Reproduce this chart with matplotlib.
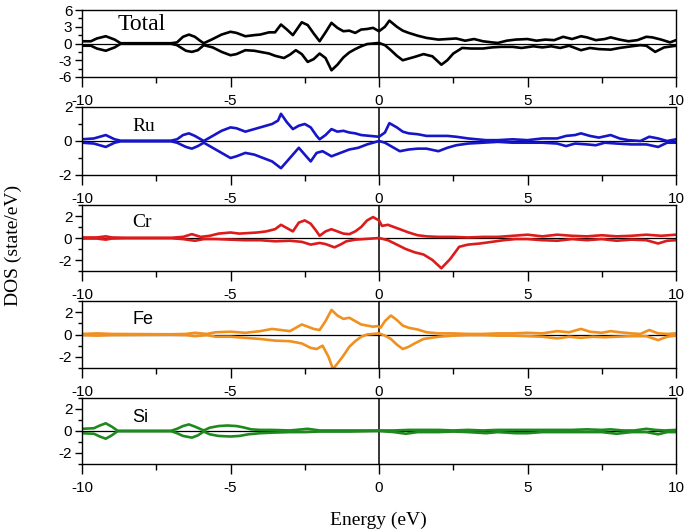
import numpy as np
import matplotlib
matplotlib.use('Agg')
import matplotlib.pyplot as plt
from matplotlib.ticker import MultipleLocator

plt.rcParams['axes.unicode_minus'] = False

# values (energy in eV, DOS in state/eV)
tot_up_e = [-10, -9.7, -9.5, -9.2, -8.9, -8.7, -7.0, -6.8, -6.6, -6.4, -6.2, -6.0, -5.9, -5.6, -5.3, -5.0, -4.8, -4.5,
            -4.2, -4.0, -3.7, -3.5, -3.3, -3.1, -2.9, -2.6, -2.4, -2.2, -2.0, -1.8, -1.6, -1.4, -1.2, -1.0, -0.8,
            -0.6, -0.4, -0.2, 0.0, 0.2, 0.35, 0.6, 0.8, 1.0, 1.3, 1.6, 2.0, 2.3, 2.6, 2.9, 3.2, 3.5, 3.8, 4.0,
            4.3, 4.6, 5.0, 5.3, 5.6, 5.9, 6.2, 6.5, 6.8, 7.0, 7.3, 7.6, 7.8, 8.1, 8.4, 8.7, 9.0, 9.2, 9.5, 9.8, 10]
tot_up = [0.4, 0.4, 0.9, 1.3, 0.7, 0.05, 0.05, 0.2, 1.2, 1.6, 1.2, 0.4, 0.05, 0.8, 1.6, 2.1, 1.9, 1.3,
          1.5, 1.6, 2.0, 2.0, 3.4, 2.5, 1.5, 3.8, 3.3, 1.8, 0.4, 2.0, 3.7, 2.8, 2.2, 2.3, 1.9,
          2.5, 2.6, 2.8, 2.2, 3.0, 4.1, 3.0, 2.3, 1.9, 1.4, 1.0, 0.7, 0.8, 0.9, 0.5, 0.8, 0.4, 0.2, 0.1,
          0.5, 0.7, 0.8, 0.5, 0.7, 0.6, 1.2, 0.8, 1.3, 1.1, 0.6, 0.8, 1.1, 0.7, 0.4, 0.6, 1.2, 1.1, 0.7, 0.2, 0.6]
tot_dn_e = [-10, -9.7, -9.5, -9.2, -8.9, -8.7, -7.0, -6.8, -6.5, -6.3, -6.1, -5.9, -5.6, -5.3, -5.0, -4.8, -4.5,
            -4.2, -4.0, -3.7, -3.5, -3.2, -3.0, -2.8, -2.6, -2.4, -2.2, -2.0, -1.8, -1.6, -1.4, -1.2, -1.0,
            -0.8, -0.6, -0.4, -0.2, 0.0, 0.2, 0.4, 0.6, 0.8, 1.0, 1.2, 1.5, 1.8, 2.1, 2.3, 2.5, 2.8, 3.1,
            3.5, 3.8, 4.1, 4.5, 4.8, 5.2, 5.5, 5.8, 6.1, 6.4, 6.8, 7.1, 7.4, 7.8, 8.1, 8.5, 8.8, 9.0, 9.3, 9.6, 10]
tot_dn = [-0.4, -0.4, -0.9, -1.3, -0.7, -0.05, -0.05, -0.3, -1.3, -1.5, -1.2, -0.3, -0.7, -1.5, -2.1, -1.9, -1.2,
          -1.3, -1.5, -1.8, -2.2, -2.6, -2.0, -1.2, -1.9, -3.3, -2.8, -1.8, -2.6, -4.8, -3.8, -2.5, -1.6,
          -1.0, -0.5, -0.1, 0.0, 0.1, -0.3, -1.2, -2.2, -3.0, -2.7, -2.4, -1.9, -2.3, -3.8, -3.0, -1.8, -0.8, -0.9,
          -0.9, -0.7, -0.6, -0.6, -0.8, -0.5, -0.7, -0.5, -0.8, -0.4, -1.2, -0.8, -1.0, -1.1, -0.8, -0.5, -0.3,
          -0.4, -1.5, -0.7, -0.4]

ru_up_e = [-10, -9.6, -9.2, -8.9, -8.7, -7.0, -6.8, -6.6, -6.4, -6.2, -5.9, -5.6, -5.3, -5.0, -4.8, -4.5, -4.2,
           -4.0, -3.8, -3.6, -3.4, -3.3, -3.1, -2.9, -2.7, -2.5, -2.3, -2.1, -2.0, -1.8, -1.6, -1.4, -1.2, -1.0,
           -0.8, -0.6, -0.3, 0.0, 0.2, 0.35, 0.6, 0.8, 1.0, 1.3, 1.6, 2.0, 2.3, 2.6, 3.0, 3.3, 3.6, 4.0, 4.5,
           5.0, 5.5, 6.0, 6.3, 6.6, 6.8, 7.1, 7.4, 7.8, 8.1, 8.4, 8.8, 9.1, 9.4, 9.7, 10]
ru_up = [0.1, 0.15, 0.35, 0.1, 0.02, 0.02, 0.1, 0.35, 0.45, 0.3, 0.0, 0.3, 0.6, 0.8, 0.75, 0.55, 0.7,
         0.8, 0.9, 1.0, 1.2, 1.6, 1.1, 0.7, 0.9, 1.0, 0.8, 0.3, 0.1, 0.35, 0.7, 0.55, 0.6, 0.5,
         0.45, 0.35, 0.3, 0.25, 0.5, 1.05, 0.8, 0.55, 0.45, 0.4, 0.3, 0.3, 0.3, 0.25, 0.15, 0.1, 0.05, 0.05, 0.1,
         0.05, 0.15, 0.15, 0.3, 0.35, 0.45, 0.3, 0.2, 0.35, 0.15, 0.05, 0.0, 0.25, 0.15, 0.0, 0.1]
ru_dn_e = [-10, -9.6, -9.2, -8.9, -8.7, -7.0, -6.8, -6.5, -6.3, -6.1, -5.9, -5.6, -5.3, -5.0, -4.8, -4.5, -4.2,
           -3.9, -3.6, -3.3, -3.1, -2.9, -2.7, -2.5, -2.3, -2.1, -1.9, -1.6, -1.3, -1.0, -0.7, -0.4, 0.0, 0.2,
           0.4, 0.7, 1.0, 1.3, 1.6, 2.0, 2.3, 2.6, 3.0, 3.5, 4.0, 4.5, 5.0, 5.5, 6.0, 6.3, 6.6, 7.0, 7.3, 7.6,
           8.0, 8.5, 9.0, 9.4, 9.7, 10]
ru_dn = [-0.1, -0.15, -0.35, -0.1, -0.02, -0.02, -0.1, -0.35, -0.45, -0.3, -0.1, -0.4, -0.7, -1.0, -0.9, -0.7, -0.8,
         -1.0, -1.2, -1.6, -1.2, -0.8, -0.4, -0.8, -1.2, -0.7, -0.6, -0.9, -0.7, -0.5, -0.4, -0.2, 0.0, -0.1,
         -0.3, -0.6, -0.5, -0.45, -0.45, -0.6, -0.4, -0.25, -0.15, -0.1, -0.05, -0.1, -0.1, -0.1, -0.15, -0.3, -0.15,
         -0.2, -0.25, -0.1, -0.15, -0.2, -0.2, -0.35, -0.1, -0.1]

cr_up_e = [-10, -9.5, -9.2, -9.0, -8.5, -7.0, -6.6, -6.3, -6.0, -5.7, -5.4, -5.0, -4.7, -4.4, -4.1, -3.8, -3.5,
           -3.3, -3.1, -2.9, -2.7, -2.5, -2.3, -2.1, -2.0, -1.8, -1.6, -1.4, -1.2, -1.0, -0.8, -0.6, -0.4, -0.2,
           0.0, 0.1, 0.3, 0.5, 0.7, 1.0, 1.3, 1.6, 2.0, 2.5, 3.0, 3.5, 4.0, 4.5, 5.0, 5.5, 6.0, 6.5, 7.0, 7.5,
           8.0, 8.5, 9.0, 9.5, 10]
cr_up = [0.05, 0.05, 0.15, 0.05, 0.02, 0.02, 0.1, 0.35, 0.1, 0.2, 0.4, 0.5, 0.4, 0.45, 0.5, 0.6, 0.8,
         1.2, 0.9, 0.6, 1.4, 1.6, 1.3, 0.6, 0.2, 0.6, 0.8, 0.6, 0.4, 0.35, 0.6, 1.0, 1.6, 1.9,
         1.6, 1.1, 1.2, 1.0, 0.8, 0.5, 0.25, 0.15, 0.1, 0.1, 0.05, 0.1, 0.1, 0.2, 0.3, 0.15, 0.3, 0.2, 0.15, 0.25,
         0.15, 0.2, 0.3, 0.2, 0.3]
cr_dn_e = [-10, -9.5, -9.2, -9.0, -8.5, -7.0, -6.6, -6.2, -5.9, -5.5, -5.0, -4.5, -4.0, -3.5, -3.0, -2.6, -2.3,
           -2.0, -1.8, -1.5, -1.3, -1.1, -0.8, -0.5, 0.0, 0.3, 0.6, 0.9, 1.2, 1.5, 1.8, 2.1, 2.4, 2.7, 3.0,
           3.4, 3.8, 4.2, 4.6, 5.0, 5.5, 6.0, 6.5, 7.0, 7.5, 8.0, 8.5, 9.0, 9.4, 9.7, 10]
cr_dn = [-0.05, -0.05, -0.15, -0.05, -0.02, -0.02, -0.1, -0.25, -0.1, -0.1, -0.15, -0.2, -0.2, -0.3, -0.25, -0.35, -0.6,
         -0.45, -0.55, -0.85, -0.6, -0.3, -0.15, -0.1, 0.0, -0.2, -0.6, -1.0, -1.3, -1.5, -2.0, -2.75, -1.9, -0.8, -0.6,
         -0.5, -0.35, -0.2, -0.1, -0.1, -0.2, -0.25, -0.1, -0.2, -0.1, -0.25, -0.15, -0.2, -0.5, -0.25, -0.2]

fe_up_e = [-10, -9.5, -9.0, -7.0, -6.5, -6.2, -5.8, -5.5, -5.0, -4.5, -4.0, -3.6, -3.3, -3.0, -2.8, -2.6, -2.4,
           -2.2, -2.0, -1.8, -1.6, -1.4, -1.2, -1.0, -0.8, -0.6, -0.4, -0.2, -0.05, 0.05, 0.2, 0.4, 0.6, 0.8,
           1.0, 1.3, 1.6, 2.0, 2.5, 3.0, 3.5, 4.0, 4.5, 5.0, 5.5, 6.0, 6.4, 6.8, 7.1, 7.5, 7.8, 8.1, 8.5, 8.8,
           9.1, 9.4, 9.7, 10]
fe_up = [0.05, 0.1, 0.05, 0.02, 0.05, 0.15, 0.05, 0.2, 0.25, 0.15, 0.3, 0.5, 0.4, 0.3, 0.6, 0.9, 0.7,
         0.5, 0.4, 1.2, 2.2, 1.7, 1.4, 1.5, 1.2, 0.9, 0.8, 0.7, 0.75, 0.6, 1.2, 1.7, 1.3, 0.8,
         0.6, 0.45, 0.2, 0.1, 0.1, 0.05, 0.05, 0.1, 0.1, 0.15, 0.1, 0.3, 0.2, 0.5, 0.25, 0.15, 0.3, 0.2, 0.1, 0.05,
         0.4, 0.1, 0.05, 0.1]
fe_dn_e = [-10, -9.5, -9.0, -7.0, -6.5, -6.2, -5.8, -5.5, -5.0, -4.5, -4.0, -3.5, -3.0, -2.6, -2.3, -2.1, -1.9,
           -1.7, -1.55, -1.4, -1.2, -1.0, -0.8, -0.6, -0.4, -0.2, 0.0, 0.2, 0.4, 0.6, 0.8, 1.0, 1.2, 1.5, 2.0,
           2.5, 3.0, 3.5, 4.0, 4.5, 5.0, 5.5, 6.0, 6.4, 6.8, 7.2, 7.6, 8.0, 8.5, 9.0, 9.4, 9.7, 10]
fe_dn = [-0.05, -0.1, -0.05, -0.02, -0.05, -0.15, -0.05, -0.2, -0.2, -0.3, -0.4, -0.55, -0.6, -0.8, -1.2, -1.3, -1.0,
         -2.0, -3.1, -2.6, -1.9, -1.1, -0.6, -0.2, 0.0, 0.05, 0.1, -0.1, -0.4, -0.9, -1.3, -1.1, -0.8, -0.4, -0.2,
         -0.1, -0.05, -0.05, -0.1, -0.1, -0.15, -0.2, -0.35, -0.2, -0.3, -0.2, -0.25, -0.2, -0.15, -0.15, -0.5, -0.2, -0.1]

si_up_e = [-10, -9.6, -9.4, -9.2, -9.0, -8.8, -7.0, -6.8, -6.6, -6.4, -6.2, -5.9, -5.7, -5.4, -5.1, -4.8, -4.6,
           -4.3, -4.0, -3.6, -3.0, -2.6, -2.4, -2.0, -1.0, 0.0, 0.5, 1.0, 1.5, 2.0, 2.5, 3.0, 3.5, 4.0, 4.5,
           5.0, 5.5, 6.0, 6.5, 7.0, 7.5, 7.8, 8.2, 8.6, 9.0, 9.3, 9.6, 10]
si_up = [0.2, 0.25, 0.5, 0.7, 0.4, 0.02, 0.02, 0.2, 0.45, 0.6, 0.4, 0.05, 0.3, 0.45, 0.5, 0.45, 0.35,
         0.15, 0.1, 0.1, 0.05, 0.15, 0.2, 0.05, 0.05, 0.05, 0.05, 0.1, 0.1, 0.1, 0.05, 0.1, 0.05, 0.1, 0.1,
         0.1, 0.1, 0.1, 0.1, 0.15, 0.1, 0.15, 0.05, 0.05, 0.2, 0.1, 0.05, 0.1]
si_dn_e = [-10, -9.6, -9.4, -9.2, -9.0, -8.8, -7.0, -6.8, -6.6, -6.3, -6.1, -5.9, -5.7, -5.4, -5.0, -4.7, -4.4,
           -4.0, -3.6, -3.0, -2.5, -2.0, -1.0, 0.0, 0.5, 0.9, 1.3, 2.0, 2.5, 3.0, 3.6, 4.0, 4.6, 5.0, 5.5,
           6.0, 6.5, 7.0, 7.5, 8.0, 8.5, 9.0, 9.4, 9.7, 10]
si_dn = [-0.2, -0.25, -0.5, -0.7, -0.4, -0.02, -0.02, -0.2, -0.45, -0.6, -0.4, -0.05, -0.3, -0.45, -0.5, -0.45, -0.3,
         -0.2, -0.15, -0.1, -0.1, -0.05, -0.05, 0.0, -0.1, -0.25, -0.1, -0.1, -0.05, -0.1, -0.2, -0.1, -0.2, -0.2,
         -0.1, -0.1, -0.1, -0.1, -0.1, -0.25, -0.1, -0.1, -0.3, -0.1, -0.1]

names = ['Total', 'Ru', 'Cr', 'Fe', 'Si']
colors = ['black', '#1616c8', '#dc1c1c', '#f0901e', '#1e8a1e']
ups = [(tot_up_e, tot_up), (ru_up_e, ru_up), (cr_up_e, cr_up), (fe_up_e, fe_up), (si_up_e, si_up)]
dns = [(tot_dn_e, tot_dn), (ru_dn_e, ru_dn), (cr_dn_e, cr_dn), (fe_dn_e, fe_dn), (si_dn_e, si_dn)]

# panel layout in pixels (top, bottom) of the 685x532 picture
W, H = 685, 532
rows = [(10, 77), (107, 175), (205, 271), (301, 368), (398, 464)]
label_y = [0.79, 0.72, 0.74, 0.73, 0.71]
left, right = 82, 676

fig = plt.figure(figsize=(W / 100, H / 100), dpi=100)

for i, name in enumerate(names):
    top, bot = rows[i]
    ax = fig.add_axes([left / W, 1 - bot / H, (right - left) / W, (bot - top) / H])
    ax.patch.set_visible(False)
    ax.axhline(0, color='black', lw=0.9, zorder=1)
    ax.axvline(0, color='black', lw=1.1, zorder=1)
    ax.plot(ups[i][0], ups[i][1], color=colors[i], lw=1.9, zorder=2)
    ax.plot(dns[i][0], dns[i][1], color=colors[i], lw=1.9, zorder=2)
    ax.set_xlim(-10, 10)
    if name == 'Total':
        ax.set_ylim(-6, 6)
        ax.yaxis.set_major_locator(MultipleLocator(3))
        ax.yaxis.set_minor_locator(MultipleLocator(1.5))
    elif name == 'Ru':
        ax.set_ylim(-2, 2)
        ax.set_yticks([-2, 0, 2])
        ax.yaxis.set_minor_locator(MultipleLocator(1))
    else:
        ax.set_ylim(-3, 3)
        ax.set_yticks([-2, 0, 2])
        ax.yaxis.set_minor_locator(MultipleLocator(1))
    ax.xaxis.set_major_locator(MultipleLocator(5))
    ax.xaxis.set_minor_locator(MultipleLocator(2.5))
    ax.tick_params(which='major', direction='out', length=7, width=1, pad=5, labelsize=11)
    ax.tick_params(which='minor', direction='out', length=4, width=1)
    ax.tick_params(axis='y', which='major', length=5, pad=2)
    ax.tick_params(axis='y', which='minor', length=3)
    for lab in ax.get_xticklabels() + ax.get_yticklabels():
        lab.set_family('Liberation Sans')
    for s in ax.spines.values():
        s.set_linewidth(1)
    if name in ('Total', 'Ru', 'Cr'):
        fam = 'Liberation Serif'
        fs = 17 if name == 'Total' else 14
    else:
        fam = 'Liberation Sans'
        fs = 13
    xpos = 0.06 if name == 'Total' else 0.085
    ax.text(xpos, label_y[i], name, transform=ax.transAxes, ha='left', va='center',
            family=fam, fontsize=fs)

fig.text(13 / W, 1 - 245 / H, 'DOS (state/eV)', rotation=90, ha='center', va='center',
         family='Liberation Serif', fontsize=14)
fig.text(378 / W, 1 - 520 / H, 'Energy (eV)', ha='center', va='center',
         family='Liberation Serif', fontsize=14)

fig.savefig('out.png', dpi=100)
